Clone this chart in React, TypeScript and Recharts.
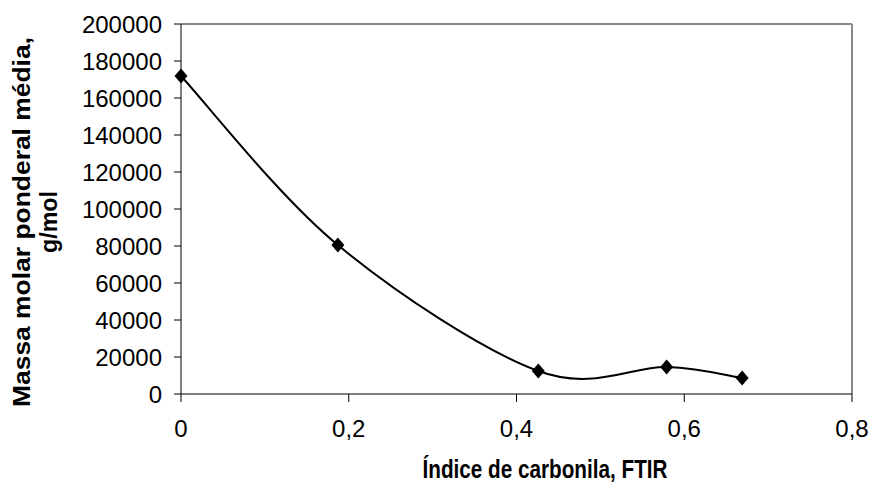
import React from 'react';
import { LineChart, Line, XAxis, YAxis, ReferenceLine } from 'recharts';

const indiceCarbonila = [0, 0.187, 0.426, 0.579, 0.669];
const massaMolar = [171900, 80500, 12400, 14600, 8700];
const xTicks = [0, 0.2, 0.4, 0.6, 0.8];
const yTicks = [0, 20000, 40000, 60000, 80000, 100000, 120000, 140000, 160000, 180000, 200000];

const xTitle = 'Índice de carbonila, FTIR';
const yTitle = ['Massa molar ponderal média,', 'g/mol'];

const data = indiceCarbonila.map((x, i) => ({ x, y: massaMolar[i] }));

const FONT = '"Liberation Sans", Arial, sans-serif';

// smoothed line like the spreadsheet one (cardinal, tension 0)
const smoothCurve = (context: any) => {
  let pts: [number, number][] = [];
  return {
    areaStart() {},
    areaEnd() {},
    lineStart() {
      pts = [];
    },
    point(x: number, y: number) {
      pts.push([+x, +y]);
    },
    lineEnd() {
      if (!pts.length) return;
      context.moveTo(pts[0][0], pts[0][1]);
      for (let i = 0; i < pts.length - 1; i++) {
        const p0 = pts[i - 1] ?? pts[i];
        const p1 = pts[i];
        const p2 = pts[i + 1];
        const p3 = pts[i + 2] ?? pts[i + 1];
        context.bezierCurveTo(
          p1[0] + (p2[0] - p0[0]) / 6,
          p1[1] + (p2[1] - p0[1]) / 6,
          p2[0] - (p3[0] - p1[0]) / 6,
          p2[1] - (p3[1] - p1[1]) / 6,
          p2[0],
          p2[1]
        );
      }
    },
  };
};

const Diamond = (props: any) => {
  const { cx, cy } = props;
  if (cx == null || cy == null) return <g />;
  return <polygon points={`${cx},${cy - 7.5} ${cx + 6.5},${cy} ${cx},${cy + 7.5} ${cx - 6.5},${cy}`} fill="#000" />;
};

const fmt = (v: number) => String(v).replace('.', ',');

const YTitle = () => (
  <g fontFamily={FONT} fontWeight="bold" fontSize={23} fill="#000">
    <text x={22} y={222} transform="rotate(-90, 22, 222)" textAnchor="middle" dominantBaseline="central"
      textLength={370} lengthAdjust="spacingAndGlyphs">
      {yTitle[0]}
    </text>
    <text x={49} y={222} transform="rotate(-90, 49, 222)" textAnchor="middle" dominantBaseline="central"
      textLength={62} lengthAdjust="spacingAndGlyphs">
      {yTitle[1]}
    </text>
  </g>
);

const XTitle = () => (
  <text x={545} y={478} textAnchor="middle" fontFamily={FONT} fontWeight="bold" fontSize={25} fill="#000"
    textLength={245} lengthAdjust="spacingAndGlyphs">
    {xTitle}
  </text>
);

export default function App() {
  return (
    <div style={{ position: 'absolute', left: 0, top: 0, background: '#fff' }}>
      <LineChart width={871} height={486} data={data} margin={{ top: 24, right: 19, bottom: 0, left: 0 }}>
        <XAxis
          type="number"
          dataKey="x"
          domain={[0, 0.8]}
          ticks={xTicks}
          tickFormatter={fmt}
          height={92}
          tickSize={8}
          tickMargin={18}
          axisLine={{ stroke: '#000', strokeWidth: 1 }}
          tickLine={{ stroke: '#000' }}
          tick={{ fontSize: 24, fill: '#000', fontFamily: FONT }}
          label={{ content: () => <XTitle /> }}
        />
        <YAxis
          type="number"
          domain={[0, 200000]}
          ticks={yTicks}
          width={181}
          tickSize={7}
          tickMargin={12}
          interval={0}
          axisLine={{ stroke: '#000', strokeWidth: 1 }}
          tickLine={{ stroke: '#000' }}
          tick={{ fontSize: 24, fill: '#000', fontFamily: FONT }}
          label={{ content: () => <YTitle /> }}
        />
        <ReferenceLine y={200000} stroke="#888" strokeWidth={2} />
        <ReferenceLine x={0.8} stroke="#888" strokeWidth={2} />
        <Line
          dataKey="y"
          type={smoothCurve as any}
          stroke="#000"
          strokeWidth={2}
          dot={<Diamond />}
          activeDot={false}
          isAnimationActive={false}
        />
      </LineChart>
    </div>
  );
}
